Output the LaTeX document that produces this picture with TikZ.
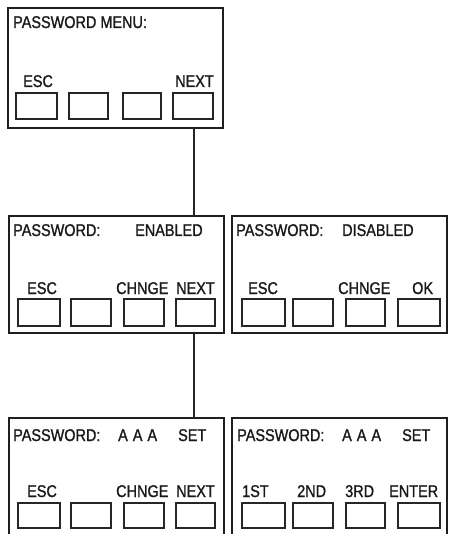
\documentclass[tikz,border=0pt]{standalone}
\usepackage{fontspec}
\setmainfont{Liberation Sans}[FakeStretch=0.85,FakeBold=1.2]
\begin{document}
\begin{tikzpicture}[x=1pt,y=-1pt,
  panel/.style={draw=black!88,line width=1.6pt,anchor=north west,inner sep=0pt,outer sep=0pt},
  btn/.style={draw=black!85,line width=1.4pt,anchor=north west,inner sep=0pt,outer sep=0pt},
  lbl/.style={anchor=base west,inner sep=0pt,font=\fontsize{17}{19}\selectfont,text=black!90},
  conn/.style={draw=black!85,line width=1.4pt}]
\clip (0,0) rectangle (448,534);
% panels
\node[panel,minimum width=215,minimum height=120] (top) at (8,8) {};
\node[panel,minimum width=215,minimum height=117] (midL) at (9,216) {};
\node[panel,minimum width=215,minimum height=117] (midR) at (232,216) {};
\node[panel,minimum width=215,minimum height=130] (botL) at (9,418) {};
\node[panel,minimum width=215,minimum height=130] (botR) at (232,418) {};
% top buttons
\node[btn,minimum width=41,minimum height=26] (t1) at (16,93) {};
\node[btn,minimum width=39,minimum height=26] (t2) at (69,93) {};
\node[btn,minimum width=38,minimum height=26] (t3) at (123,93) {};
\node[btn,minimum width=40,minimum height=26] (t4) at (173,93) {};
% middle buttons
\node[btn,minimum width=42,minimum height=27] (ml1) at (18,299) {};
\node[btn,minimum width=40,minimum height=27] (ml2) at (71,299) {};
\node[btn,minimum width=40,minimum height=27] (ml3) at (124,299) {};
\node[btn,minimum width=39,minimum height=27] (ml4) at (176,299) {};
\node[btn,minimum width=43,minimum height=27] (mr1) at (242,299) {};
\node[btn,minimum width=40,minimum height=27] (mr2) at (293,299) {};
\node[btn,minimum width=39,minimum height=27] (mr3) at (346,299) {};
\node[btn,minimum width=42,minimum height=27] (mr4) at (398,299) {};
% bottom buttons
\node[btn,minimum width=42,minimum height=25] (bl1) at (18,503) {};
\node[btn,minimum width=40,minimum height=25] (bl2) at (71,503) {};
\node[btn,minimum width=40,minimum height=25] (bl3) at (124,503) {};
\node[btn,minimum width=39,minimum height=25] (bl4) at (176,503) {};
\node[btn,minimum width=43,minimum height=25] (br1) at (242,503) {};
\node[btn,minimum width=40,minimum height=25] (br2) at (293,503) {};
\node[btn,minimum width=39,minimum height=25] (br3) at (346,503) {};
\node[btn,minimum width=42,minimum height=25] (br4) at (398,503) {};
% top texts
\node[lbl] (ttitle) at (13,28) {PASSWORD MENU:};
\node[lbl] (tesc) at (23,87) {ESC};
\node[lbl] (tnext) at (175,87) {NEXT};
% middle left texts
\node[lbl] (mlt) at (13,236) {PASSWORD:};
\node[lbl] (mlen) at (135,236) {ENABLED};
\node[lbl] (mlesc) at (27,294) {ESC};
\node[lbl] (mlch) at (116,294) {CHNGE};
\node[lbl] (mlnext) at (176,294) {NEXT};
% middle right texts
\node[lbl] (mrt) at (236,236) {PASSWORD:};
\node[lbl] (mrdis) at (342,236) {DISABLED};
\node[lbl] (mresc) at (248,294) {ESC};
\node[lbl] (mrch) at (338,294) {CHNGE};
\node[lbl] (mrok) at (412,294) {OK};
% bottom left texts
\node[lbl] (blt) at (13,441) {PASSWORD:};
\node[lbl] (blaaa) at (118,441) {A\hspace{5pt}A\hspace{5pt}A};
\node[lbl] (blset) at (178,441) {SET};
\node[lbl] (blesc) at (27,497) {ESC};
\node[lbl] (blch) at (116,497) {CHNGE};
\node[lbl] (blnext) at (176,497) {NEXT};
% bottom right texts
\node[lbl] (brt) at (237,441) {PASSWORD:};
\node[lbl] (braaa) at (342,441) {A\hspace{5pt}A\hspace{5pt}A};
\node[lbl] (brset) at (402,441) {SET};
\node[lbl] (br1st) at (242,497) {1ST};
\node[lbl] (br2nd) at (297,497) {2ND};
\node[lbl] (br3rd) at (345,497) {3RD};
\node[lbl] (brenter) at (389,497) {ENTER};
% connectors
\draw[conn] (top.south -| 194,0) -- (midL.north -| 194,0);
\draw[conn] (midL.south -| 194,0) -- (botL.north -| 194,0);
\end{tikzpicture}
\end{document}
